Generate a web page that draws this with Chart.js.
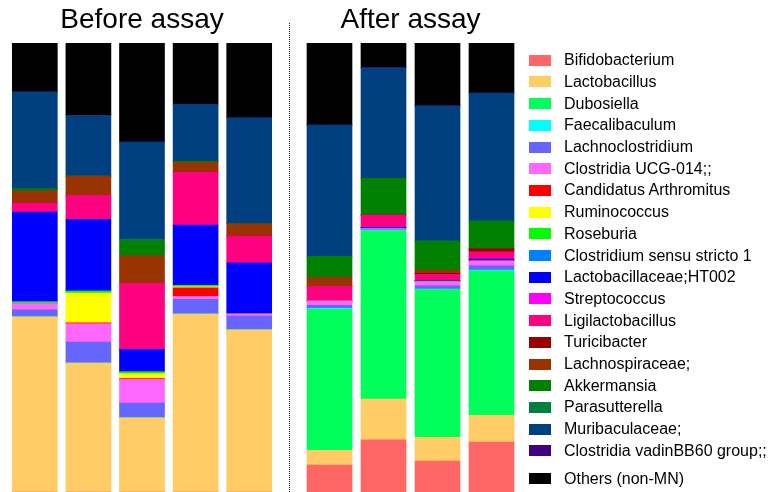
<!DOCTYPE html>
<html>
<head>
<meta charset="utf-8">
<script src="https://cdn.jsdelivr.net/npm/chart.js@4"></script>
<style>
  body { margin: 0; background: #fff; }
  #wrap { position: relative; width: 770px; height: 492px; overflow: hidden; font-family: "Liberation Sans", Arial, sans-serif; }
  #before { position: absolute; left: 0; top: 0; }
  #after { position: absolute; left: 290px; top: 0; }
  #sep { position: absolute; left: 289px; top: 23px; height: 469px; border-left: 1px dotted #222; }
  .row { position: absolute; left: 529px; height: 22px; display: flex; align-items: center; font-size: 16px; color: #000; white-space: nowrap; }
  .row span.box { width: 22px; height: 11px; margin-right: 13px; }
</style>
</head>
<body>
<div id="wrap">
  <canvas id="before" width="284" height="492"></canvas>
  <canvas id="after" width="240" height="492"></canvas>
  <div id="sep"></div>
  <div id="legend"></div>
</div>
<script>
// Taxa (stack order, bottom to top) and their colours
const taxa = [
    'Bifidobacterium', 'Lactobacillus', 'Dubosiella', 'Faecalibaculum', 'Lachnoclostridium',
    'Clostridia UCG-014;;', 'Candidatus Arthromitus', 'Ruminococcus', 'Roseburia', 'Clostridium sensu stricto 1',
    'Lactobacillaceae;HT002', 'Streptococcus', 'Ligilactobacillus', 'Turicibacter', 'Lachnospiraceae;',
    'Akkermansia', 'Parasutterella', 'Muribaculaceae;', 'Clostridia vadinBB60 group;;', 'Others (non-MN)'
];
const taxaColors = [
    '#FF6666', '#FFCC66', '#00FF5A', '#00FFFF', '#6666FF',
    '#FF66FF', '#FF0000', '#FFFF00', '#00FF00', '#0080FF',
    '#0000FF', '#FF00FF', '#FF0080', '#990000', '#993300',
    '#008000', '#008040', '#003F80', '#400080', '#000000'
];

const beforeSamples = ['B1', 'B2', 'B3', 'B4', 'B5'];
const afterSamples = ['A1', 'A2', 'A3', 'A4'];

// Relative abundance (%) per sample, in taxa order
const before1 = [0, 39.0, 0, 0, 1.56, 1.4, 0, 0, 0.4, 0, 20.0, 0, 2.0, 0, 2.7, 0.45, 0, 21.6, 0, 10.9];
const before2 = [0, 28.7, 0, 0, 4.7, 4.1, 0.2, 6.6, 0.45, 0, 16.0, 0, 5.3, 0, 4.3, 0, 0, 13.5, 0, 16.15];
const before3 = [0, 16.5, 0, 0, 3.3, 5.3, 0.15, 1.1, 0.4, 0, 5.0, 0, 14.7, 0, 6.2, 3.3, 0.3, 21.7, 0, 22.05];
const before4 = [0, 39.6, 0, 0, 3.3, 0.7, 1.9, 0.2, 0.35, 0, 13.4, 0, 11.8, 0, 2.2, 0.2, 0, 12.7, 0, 13.65];
const before5 = [0, 36.1, 0, 0, 3.1, 0.45, 0, 0, 0, 0, 11.4, 0, 6.0, 0, 2.7, 0, 0, 23.6, 0, 16.65];

const after1 = [6.0, 3.3, 31.4, 0.2, 0.7, 0.9, 0, 0, 0, 0, 0, 0, 3.3, 0, 2.0, 4.7, 0, 29.2, 0, 18.3];
const after2 = [11.6, 9.1, 37.4, 0.25, 0.2, 0.2, 0, 0, 0, 0, 0.2, 0, 2.7, 0, 0, 8.2, 0, 24.6, 0.15, 5.4];
const after3 = [6.9, 5.3, 32.9, 0.1, 0.7, 0.9, 0, 0, 0.15, 0, 0.2, 0, 1.3, 0.25, 0.7, 6.5, 0, 30.1, 0, 14.0];
const after4 = [11.1, 6.0, 32.1, 0.25, 0.9, 1.1, 0, 0, 0, 0, 0.45, 0, 1.6, 0.65, 0, 6.2, 0, 28.5, 0, 11.15];

function buildDatasets(rows) {
    return taxa.map((name, i) => ({
        label: name,
        data: rows.map(r => r[i]),
        backgroundColor: taxaColors[i],
        borderWidth: 0,
        barThickness: 45
    }));
}

function makeChart(id, labels, rows, title, padding) {
    new Chart(document.getElementById(id), {
        type: 'bar',
        data: { labels: labels, datasets: buildDatasets(rows) },
        options: {
            responsive: false,
            animation: false,
            layout: { padding: padding },
            scales: {
                x: { stacked: true, display: false },
                y: { stacked: true, display: false, min: 0, max: 100 }
            },
            plugins: {
                legend: { display: false },
                tooltip: { enabled: false },
                title: {
                    display: true,
                    text: title,
                    color: '#000',
                    font: { family: '"Liberation Sans", Arial, sans-serif', size: 28, weight: 'normal' },
                    padding: { top: 3, bottom: 6.4 }
                }
            }
        }
    });
}

makeChart('before', beforeSamples, [before1, before2, before3, before4, before5], 'Before assay', { left: 8, right: 8 });
makeChart('after', afterSamples, [after1, after2, after3, after4], 'After assay', { left: 12.5, right: 11.5 });

// Legend
const legend = document.getElementById('legend');
taxa.forEach((name, i) => {
    const center = i < taxa.length - 1 ? 60.2 + i * 21.7 : 478.8;
    const row = document.createElement('div');
    row.className = 'row';
    row.style.top = (center - 11) + 'px';
    row.innerHTML = `<span class="box" style="background:${taxaColors[i]}"></span><span>${name}</span>`;
    legend.appendChild(row);
});
</script>
</body>
</html>
